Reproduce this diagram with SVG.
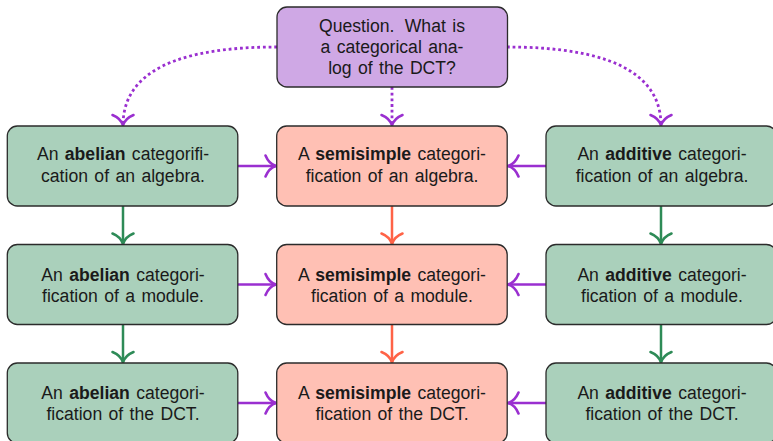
<svg xmlns="http://www.w3.org/2000/svg" width="773" height="441" viewBox="0 0 773 441">
<style>
.box{stroke:#2b2b2b;stroke-width:1.3}
.q{fill:#CFA8E5}
.g{fill:#AAD0BB}
.s{fill:#FFC0B4}
text{font-family:"Liberation Sans",Arial,sans-serif;font-size:17.6px;fill:#1a1a1a;text-anchor:middle;word-spacing:1.5px}
.b{font-weight:bold}
.c{fill:none;stroke-width:2.5}
.p{stroke:#9A2FD0}
.gr{stroke:#2E8B57}
.o{stroke:#FF6347}
.dot{stroke-width:2.8;stroke-dasharray:2.8 2.9}
</style>
<defs>
<marker id="ap" markerUnits="userSpaceOnUse" markerWidth="30" markerHeight="30" viewBox="-15 -15 30 30" refX="0" refY="0" orient="auto" overflow="visible"><path d="M-10.5,-10.5 Q-7,-2 0,0 Q-7,2 -10.5,10.5" fill="none" stroke="#9A2FD0" stroke-width="2.6" stroke-linecap="round" stroke-linejoin="round"/></marker>
<marker id="ag" markerUnits="userSpaceOnUse" markerWidth="30" markerHeight="30" viewBox="-15 -15 30 30" refX="0" refY="0" orient="auto" overflow="visible"><path d="M-10.5,-10.5 Q-7,-2 0,0 Q-7,2 -10.5,10.5" fill="none" stroke="#2E8B57" stroke-width="2.6" stroke-linecap="round" stroke-linejoin="round"/></marker>
<marker id="ao" markerUnits="userSpaceOnUse" markerWidth="30" markerHeight="30" viewBox="-15 -15 30 30" refX="0" refY="0" orient="auto" overflow="visible"><path d="M-10.5,-10.5 Q-7,-2 0,0 Q-7,2 -10.5,10.5" fill="none" stroke="#FF6347" stroke-width="2.6" stroke-linecap="round" stroke-linejoin="round"/></marker>
</defs>
<g id="connectors">
<path class="c p dot" d="M277,47 C209,47 123,58 123,125.5" marker-end="url(#ap)"/>
<path class="c p dot" d="M392,87 L392,125.5" marker-end="url(#ap)"/>
<path class="c p dot" d="M507,47 C575,47 661,58 661,125.5" marker-end="url(#ap)"/>
<path class="c p" d="M238,166 L276,166" marker-end="url(#ap)"/>
<path class="c p" d="M546,166 L508,166" marker-end="url(#ap)"/>
<path class="c p" d="M238,284.5 L276,284.5" marker-end="url(#ap)"/>
<path class="c p" d="M546,284.5 L508,284.5" marker-end="url(#ap)"/>
<path class="c p" d="M238,403 L276,403" marker-end="url(#ap)"/>
<path class="c p" d="M546,403 L508,403" marker-end="url(#ap)"/>
<path class="c gr" d="M123,206 L123,244" marker-end="url(#ag)"/>
<path class="c gr" d="M123,324.5 L123,362.5" marker-end="url(#ag)"/>
<path class="c gr" d="M661,206 L661,244" marker-end="url(#ag)"/>
<path class="c gr" d="M661,324.5 L661,362.5" marker-end="url(#ag)"/>
<path class="c o" d="M392,206 L392,244" marker-end="url(#ao)"/>
<path class="c o" d="M392,324.5 L392,362.5" marker-end="url(#ao)"/>
</g>
<g id="question">
<rect class="box q" x="277" y="7" width="230.5" height="80" rx="10"/>
<text x="392" y="32">Question. <tspan dx="4">What is</tspan></text>
<text x="392" y="53">a categorical ana-</text>
<text x="392" y="74">log of the DCT?</text>
</g>
<g id="abelian-algebra">
<rect class="box g" x="7.3" y="126" width="230.5" height="80" rx="10"/>
<text x="123" y="159.5">An <tspan class="b">abelian</tspan> categorifi-</text>
<text x="123" y="181.5">cation of an algebra.</text>
</g>
<g id="semisimple-algebra">
<rect class="box s" x="276.7" y="126" width="230.5" height="80" rx="10"/>
<text x="392" y="159.5">A <tspan class="b">semisimple</tspan> categori-</text>
<text x="392" y="181.5">fication of an algebra.</text>
</g>
<g id="additive-algebra">
<rect class="box g" x="546" y="126" width="230.5" height="80" rx="10"/>
<text x="662" y="159.5">An <tspan class="b">additive</tspan> categori-</text>
<text x="662" y="181.5">fication of an algebra.</text>
</g>
<g id="abelian-module">
<rect class="box g" x="7.3" y="244.5" width="230.5" height="80" rx="10"/>
<text x="123" y="280.5">An <tspan class="b">abelian</tspan> categori-</text>
<text x="123" y="302">fication of a module.</text>
</g>
<g id="semisimple-module">
<rect class="box s" x="276.7" y="244.5" width="230.5" height="80" rx="10"/>
<text x="392" y="280.5">A <tspan class="b">semisimple</tspan> categori-</text>
<text x="392" y="302">fication of a module.</text>
</g>
<g id="additive-module">
<rect class="box g" x="546" y="244.5" width="230.5" height="80" rx="10"/>
<text x="662" y="280.5">An <tspan class="b">additive</tspan> categori-</text>
<text x="662" y="302">fication of a module.</text>
</g>
<g id="abelian-dct">
<rect class="box g" x="7.3" y="363" width="230.5" height="80" rx="10"/>
<text x="123" y="398.5">An <tspan class="b">abelian</tspan> categori-</text>
<text x="123" y="420">fication of the DCT.</text>
</g>
<g id="semisimple-dct">
<rect class="box s" x="276.7" y="363" width="230.5" height="80" rx="10"/>
<text x="392" y="398.5">A <tspan class="b">semisimple</tspan> categori-</text>
<text x="392" y="420">fication of the DCT.</text>
</g>
<g id="additive-dct">
<rect class="box g" x="546" y="363" width="230.5" height="80" rx="10"/>
<text x="662" y="398.5">An <tspan class="b">additive</tspan> categori-</text>
<text x="662" y="420">fication of the DCT.</text>
</g>
</svg>
